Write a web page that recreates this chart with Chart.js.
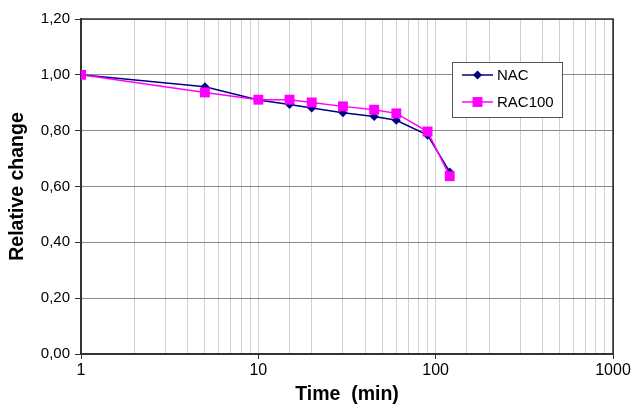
<!DOCTYPE html>
<html>
<head>
<meta charset="utf-8">
<script src="https://cdn.jsdelivr.net/npm/chart.js@4.4.1/dist/chart.umd.min.js"></script>
<style>
  html, body { margin: 0; padding: 0; background: #fff; }
  #wrap { width: 635px; height: 406px; }
</style>
</head>
<body>
<div id="wrap"><canvas id="chart" width="635" height="406"></canvas></div>
<script>
// Datos
const times = [1, 5, 10, 15, 20, 30, 45, 60, 90, 120];  // minutos
const nacValues = [1.00, 0.957, 0.910, 0.894, 0.881, 0.864, 0.851, 0.837, 0.784, 0.652];
const rac100Values = [1.00, 0.937, 0.911, 0.911, 0.901, 0.887, 0.875, 0.862, 0.797, 0.637];
const yTicks = [0, 0.2, 0.4, 0.6, 0.8, 1.0, 1.2];

const FONT = 'Arial, "Liberation Sans", sans-serif';

function isDecade(v) {
    const l = Math.log10(v);
    return Math.abs(l - Math.round(l)) < 1e-9;
}

// Marco del área de trazado + leyenda dentro del gráfico
const framePlugin = {
    id: 'frame',
    afterDraw(chart) {
        const c = chart.ctx;
        const a = chart.chartArea;
        c.save();
        c.strokeStyle = '#333';
        c.lineWidth = 1.5;
        c.beginPath();
        c.moveTo(a.left, a.top);
        c.lineTo(a.right, a.top);
        c.lineTo(a.right, a.bottom);
        c.stroke();

        // leyenda
        const bx = 452, by = 62, bw = 110, bh = 55;
        c.fillStyle = '#fff';
        c.fillRect(bx, by, bw, bh);
        c.strokeStyle = '#555';
        c.lineWidth = 1;
        c.strokeRect(bx + 0.5, by + 0.5, bw, bh);
        c.font = '15px ' + FONT;
        c.textBaseline = 'middle';
        chart.data.datasets.forEach((ds, i) => {
            const y = by + 13 + i * 27;
            c.strokeStyle = ds.borderColor;
            c.lineWidth = 1.5;
            c.beginPath();
            c.moveTo(bx + 10, y);
            c.lineTo(bx + 41, y);
            c.stroke();
            c.fillStyle = ds.pointBackgroundColor;
            const cx = bx + 25.5;
            c.beginPath();
            if (ds.pointStyle === 'rectRot') {
                const r = ds.pointRadius;
                c.moveTo(cx - r, y); c.lineTo(cx, y - r); c.lineTo(cx + r, y); c.lineTo(cx, y + r);
                c.closePath();
            } else {
                const s = ds.pointRadius * Math.SQRT1_2;
                c.rect(cx - s, y - s, 2 * s, 2 * s);
            }
            c.fill();
            c.fillStyle = '#000';
            c.textAlign = 'left';
            c.fillText(ds.label, bx + 45, y + 1);
        });
        c.restore();
    }
};

const ctx = document.getElementById('chart').getContext('2d');
const chart = new Chart(ctx, {
    type: 'line',
    data: {
        datasets: [{
            label: 'NAC',
            data: times.map((t, i) => ({ x: t, y: nacValues[i] })),
            borderColor: '#000080',
            backgroundColor: '#000080',
            pointBackgroundColor: '#000080',
            pointBorderColor: '#000080',
            pointStyle: 'rectRot',
            pointRadius: 4.5,
            pointBorderWidth: 0,
            borderWidth: 1.5,
            tension: 0,
            order: 2
        }, {
            label: 'RAC100',
            data: times.map((t, i) => ({ x: t, y: rac100Values[i] })),
            borderColor: '#ff00ff',
            backgroundColor: '#ff00ff',
            pointBackgroundColor: '#ff00ff',
            pointBorderColor: '#ff00ff',
            pointStyle: 'rect',
            pointRadius: 7,
            pointBorderWidth: 0,
            borderWidth: 1.5,
            tension: 0,
            order: 1
        }]
    },
    options: {
        responsive: false,
        animation: false,
        devicePixelRatio: 1,
        layout: { padding: { top: 19, right: 22, left: 0, bottom: 0 } },
        plugins: {
            legend: { display: false },
            tooltip: { enabled: false }
        },
        scales: {
            x: {
                type: 'logarithmic',
                min: 1,
                max: 1000,
                afterFit: s => { s.height = 52; },
                border: { color: '#333', width: 2 },
                grid: {
                    color: c => (c.tick && c.tick.value === 1000) ? '#333' : '#cfcfcf',
                    tickColor: c => (c.tick && isDecade(c.tick.value)) ? '#333' : 'rgba(0,0,0,0)',
                    tickLength: 5,
                    lineWidth: 1
                },
                ticks: {
                    autoSkip: false,
                    maxRotation: 0,
                    padding: 2,
                    color: '#000',
                    font: { family: FONT, size: 16 },
                    callback: v => isDecade(v) ? String(Math.round(v)) : ''
                },
                title: {
                    display: true,
                    text: 'Time  (min)',
                    color: '#000',
                    font: { family: FONT, size: 19.5, weight: 'bold' },
                    padding: { top: 0, bottom: 0 }
                }
            },
            y: {
                min: 0,
                max: 1.2,
                afterFit: s => { s.width = 81; },
                afterBuildTicks: s => { s.ticks = yTicks.map(v => ({ value: v })); },
                border: { color: '#333', width: 2 },
                grid: {
                    color: '#8a8a8a',
                    tickColor: '#333',
                    tickLength: 6,
                    lineWidth: 1
                },
                ticks: {
                    padding: 5,
                    color: '#000',
                    font: { family: FONT, size: 15 },
                    callback: v => v.toFixed(2).replace('.', ',')
                },
                title: {
                    display: true,
                    text: 'Relative change',
                    color: '#000',
                    font: { family: FONT, size: 19.5, weight: 'bold' },
                    padding: { top: 6, bottom: 0 }
                }
            }
        }
    },
    plugins: [framePlugin]
});
</script>
</body>
</html>
